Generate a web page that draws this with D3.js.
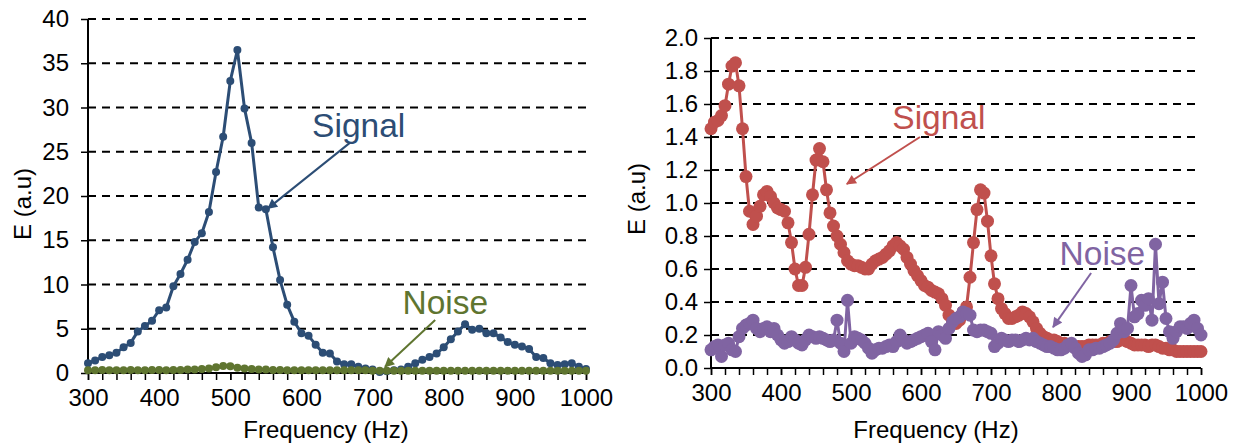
<!DOCTYPE html>
<html><head><meta charset="utf-8">
<script src="https://cdn.jsdelivr.net/npm/d3@7"></script>
<style>body{margin:0;background:#fff}svg{display:block}text{font-family:"Liberation Sans",Arial,sans-serif}</style>
</head><body>
<svg id="c" width="1235" height="446"></svg>
<script>
// ---------- data ----------
const leftFreq = d3.range(300, 1001, 10);
const leftSignal = [1.1,1.4,1.8,2.0,2.3,2.9,3.4,4.7,5.3,5.9,7.1,7.4,9.8,11.2,12.8,14.8,15.8,18.2,22.7,26.7,33.0,36.5,29.9,26.0,18.7,18.5,14.2,10.5,7.7,5.8,4.5,4.2,3.2,2.3,2.2,1.3,1.0,1.0,0.7,0.5,0.4,0.1,0.2,0.3,0.4,0.7,1.1,1.5,1.8,2.2,2.9,3.8,4.7,5.5,4.9,5.0,4.5,4.5,4.0,3.5,3.2,3.0,2.7,1.8,1.7,1.1,0.9,1.0,1.1,0.7,0.45];
const leftNoise = [0.3,0.3,0.35,0.3,0.3,0.3,0.35,0.3,0.3,0.35,0.35,0.3,0.35,0.35,0.4,0.4,0.45,0.5,0.65,0.8,0.75,0.6,0.5,0.45,0.4,0.4,0.35,0.35,0.3,0.3,0.3,0.3,0.3,0.3,0.3,0.3,0.3,0.3,0.3,0.3,0.25,0.25,0.25,0.25,0.25,0.25,0.25,0.25,0.25,0.25,0.25,0.25,0.25,0.25,0.25,0.25,0.25,0.25,0.25,0.25,0.25,0.25,0.25,0.25,0.25,0.25,0.25,0.25,0.25,0.25,0.25];
const rightFreq = d3.range(300, 1001, 5);
const rightSignal = [1.45,1.49,1.50,1.53,1.59,1.72,1.83,1.85,1.71,1.45,1.16,0.95,0.87,0.92,0.98,1.05,1.07,1.04,1.00,0.97,0.96,0.95,0.88,0.76,0.60,0.50,0.50,0.61,0.81,1.05,1.26,1.33,1.25,1.08,0.94,0.86,0.80,0.75,0.70,0.65,0.63,0.62,0.62,0.61,0.60,0.60,0.63,0.65,0.66,0.67,0.69,0.71,0.74,0.76,0.74,0.72,0.67,0.63,0.59,0.56,0.53,0.50,0.49,0.47,0.46,0.45,0.42,0.38,0.32,0.28,0.27,0.29,0.34,0.37,0.55,0.76,0.96,1.08,1.06,0.89,0.68,0.51,0.42,0.36,0.33,0.30,0.30,0.31,0.32,0.34,0.33,0.31,0.28,0.24,0.21,0.19,0.18,0.17,0.17,0.16,0.15,0.15,0.14,0.14,0.13,0.13,0.13,0.13,0.14,0.14,0.14,0.14,0.15,0.15,0.16,0.16,0.16,0.17,0.17,0.16,0.15,0.14,0.14,0.14,0.14,0.13,0.14,0.14,0.13,0.12,0.12,0.11,0.11,0.10,0.10,0.10,0.10,0.10,0.10,0.10,0.10];
const rightNoise = [0.11,0.13,0.14,0.07,0.14,0.15,0.11,0.10,0.19,0.24,0.26,0.27,0.29,0.24,0.22,0.24,0.25,0.22,0.24,0.20,0.17,0.15,0.16,0.19,0.17,0.15,0.14,0.17,0.20,0.19,0.18,0.19,0.18,0.17,0.16,0.17,0.29,0.15,0.10,0.41,0.15,0.19,0.18,0.17,0.15,0.12,0.09,0.11,0.12,0.12,0.13,0.14,0.13,0.16,0.20,0.17,0.15,0.16,0.17,0.18,0.19,0.20,0.21,0.16,0.11,0.22,0.20,0.18,0.24,0.28,0.30,0.31,0.34,0.33,0.32,0.23,0.22,0.23,0.23,0.22,0.21,0.13,0.15,0.18,0.17,0.16,0.17,0.17,0.16,0.17,0.18,0.17,0.18,0.16,0.15,0.14,0.13,0.13,0.12,0.11,0.11,0.12,0.14,0.15,0.12,0.09,0.07,0.08,0.11,0.11,0.12,0.12,0.13,0.14,0.15,0.17,0.21,0.27,0.22,0.24,0.50,0.31,0.33,0.41,0.38,0.42,0.29,0.75,0.39,0.52,0.30,0.22,0.18,0.22,0.25,0.25,0.24,0.27,0.29,0.24,0.20];
const leftYTicks = [0,5,10,15,20,25,30,35,40];
const rightYTicks = [0,0.2,0.4,0.6,0.8,1.0,1.2,1.4,1.6,1.8,2.0];
const xTicks = [300,400,500,600,700,800,900,1000];
const xMinorTicks = d3.range(300, 1001, 20);

const svg = d3.select("#c");
const FONT = 24;

function panel(o) {
  const x = d3.scaleLinear().domain([300,1000]).range([o.x0, o.x1]);
  const y = d3.scaleLinear().domain([0, o.ymax]).range([o.y0, o.y1]);
  const g = svg.append("g");
  g.selectAll(".grid").data(o.yTicks.filter(d => d > 0)).join("line")
    .attr("x1", o.x0).attr("x2", o.x1).attr("y1", d => y(d)).attr("y2", d => y(d))
    .attr("stroke", "#000").attr("stroke-width", 2).attr("stroke-dasharray", "8,6");
  const ya = g.append("g").attr("transform", `translate(${o.x0},0)`)
    .call(d3.axisLeft(y).tickValues(o.yTicks).tickFormat(o.fmt).tickSize(7).tickPadding(o.ypad));
  const xa = g.append("g").attr("transform", `translate(0,${o.y0})`)
    .call(d3.axisBottom(x).tickValues(xTicks).tickFormat(d3.format("d")).tickSize(7).tickPadding(9));
  const xm = g.append("g").attr("transform", `translate(0,${o.y0})`)
    .call(d3.axisBottom(x).tickValues(xMinorTicks).tickFormat("").tickSize(7));
  [ya, xa, xm].forEach(a => {
    a.select(".domain").attr("stroke", "#000").attr("stroke-width", 2);
    a.selectAll(".tick line").attr("stroke", "#000").attr("stroke-width", 1.5);
    a.selectAll("text").attr("font-size", FONT).attr("fill", "#000").style("font-family", "Liberation Sans, Arial, sans-serif");
  });
  xm.select(".domain").remove();
  ya.select(".domain").attr("d", `M0,${o.y0}V${o.y1}`);
  xa.select(".domain").attr("d", `M${o.x0},0H${o.x1}`);
  g.append("text").attr("x", o.xt).attr("y", 438).attr("text-anchor", "middle")
    .attr("font-size", 24).text("Frequency (Hz)");
  g.append("text").attr("transform", `translate(${o.yt[0]},${o.yt[1]}) rotate(-90)`)
    .attr("text-anchor", "middle").attr("font-size", 24).text("E (a.u)");
  o.series.forEach(s => {
    const line = d3.line().x((d, i) => x(o.freq[i])).y(d => y(d));
    g.append("path").datum(s.vals).attr("d", line).attr("fill", "none")
      .attr("stroke", s.color).attr("stroke-width", o.lw).attr("stroke-linejoin", "round");
    g.selectAll(null).data(s.vals).join("circle")
      .attr("cx", (d, i) => x(o.freq[i])).attr("cy", d => y(d)).attr("r", o.r).attr("fill", s.color);
  });
  o.notes.forEach((n, k) => {
    const id = `ah${o.id}${k}`;
    svg.append("defs").append("marker").attr("id", id).attr("viewBox", "0 0 10 10")
      .attr("refX", 9).attr("refY", 5).attr("markerWidth", 13).attr("markerHeight", 10)
      .attr("markerUnits", "userSpaceOnUse").attr("orient", "auto")
      .append("path").attr("d", "M0,0L10,5L0,10Z").attr("fill", n.color);
    g.append("line").attr("x1", x(n.from[0])).attr("y1", y(n.from[1]))
      .attr("x2", x(n.to[0])).attr("y2", y(n.to[1]))
      .attr("stroke", n.color).attr("stroke-width", 2).attr("marker-end", `url(#${id})`);
    g.append("text").attr("x", x(n.at[0])).attr("y", y(n.at[1]))
      .attr("font-size", 33.5).attr("fill", n.color).text(n.label);
  });
}

panel({
  id: "L", x0: 88, x1: 586, y0: 373, y1: 19, ymax: 40, yTicks: leftYTicks, fmt: d3.format("d"),
  ypad: 12, xt: 326, yt: [31, 204], freq: leftFreq, lw: 3, r: 4,
  series: [{vals: leftSignal, color: "#2C4D75"}, {vals: leftNoise, color: "#5F7530"}],
  notes: [
    {label: "Signal", color: "#2C4D75", at: [615, 26.7], from: [668, 26], to: [553, 18.6]},
    {label: "Noise", color: "#5F7530", at: [742, 6.7], from: [788, 6.0], to: [717.5, 0.7]}
  ]
});
panel({
  id: "R", x0: 711, x1: 1201, y0: 368, y1: 38, ymax: 2, yTicks: rightYTicks, fmt: d3.format(".1f"),
  ypad: 6, xt: 936, yt: [645, 199], freq: rightFreq, lw: 3, r: 6.5,
  series: [{vals: rightSignal, color: "#C0504D"}, {vals: rightNoise, color: "#8064A2"}],
  notes: [
    {label: "Signal", color: "#C0504D", at: [559, 1.45], from: [598.6, 1.40], to: [494, 1.115]},
    {label: "Noise", color: "#8064A2", at: [798, 0.624], from: [843, 0.576], to: [788.6, 0.248]}
  ]
});
</script>
</body></html>
